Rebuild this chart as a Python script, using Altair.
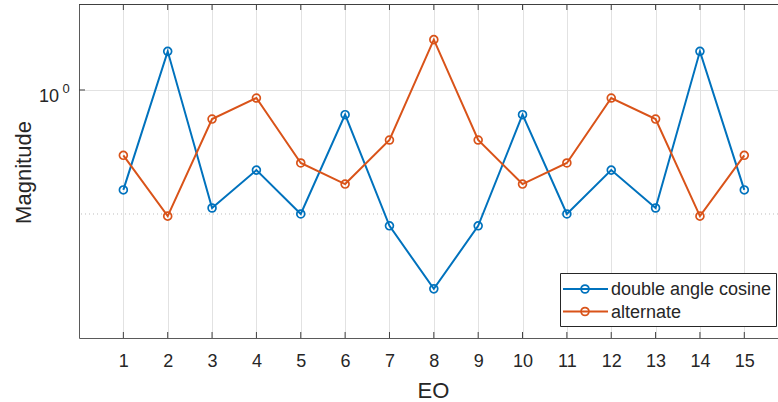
import altair as alt
import pandas as pd

# ---- data ----
eo = list(range(1, 16))
double_angle_cosine = [0.572, 1.241, 0.517, 0.639, 0.500, 0.871, 0.468, 0.329,
                       0.468, 0.871, 0.500, 0.639, 0.517, 1.241, 0.572]
alternate = [0.694, 0.494, 0.850, 0.956, 0.665, 0.591, 0.756, 1.325,
             0.756, 0.591, 0.665, 0.956, 0.850, 0.494, 0.694]
series_names = ["double angle cosine", "alternate"]
series_colors = ["#0072BD", "#D95319"]
major_y = [1]
minor_y = [0.5]
y_domain = [0.25, 1.617]
x_domain = [0, 15.76]

W, H = 699, 334
FONT = "Liberation Sans"
TXT = "#262626"
AXC = "#5a5a5a"
GRID = "#e2e2e2"
MSIZE = 62

df_blue = pd.DataFrame({"EO": eo, "Magnitude": double_angle_cosine})
df_orange = pd.DataFrame({"EO": eo, "Magnitude": alternate})
df_eo = pd.DataFrame({"EO": eo})
df_major = pd.DataFrame({"Magnitude": major_y})
df_minor = pd.DataFrame({"Magnitude": minor_y})

x_enc = alt.X(
    "EO:Q",
    scale=alt.Scale(domain=x_domain, nice=False, zero=False),
    axis=alt.Axis(
        values=eo, format="d", title="EO", titleFont=FONT, titleFontSize=22,
        titleFontWeight="normal", titleColor=TXT, titleX=354, titleY=59,
        titleBaseline="alphabetic", labelFont=FONT, labelFontSize=18,
        labelColor=TXT, labelBaseline="alphabetic", labelPadding=28,
        ticks=False, tickSize=0, grid=True, gridColor=GRID, gridWidth=1,
        domainColor=AXC, domainWidth=1, labelFlush=False,
    ),
)
y_enc = alt.Y(
    "Magnitude:Q",
    scale=alt.Scale(type="log", domain=y_domain, nice=False),
    axis=alt.Axis(
        values=major_y, labels=False, ticks=False, tickSize=0, grid=True,
        gridColor=GRID, gridWidth=1, domainColor=AXC, domainWidth=1,
        title="Magnitude", titleFont=FONT, titleFontSize=22,
        titleFontWeight="normal", titleColor=TXT, titleAngle=270,
        titleX=-48.6, titleY=168, titleBaseline="alphabetic",
    ),
)

layers = []

# dotted minor grid line
layers.append(
    alt.Chart(df_minor).mark_rule(color="#bdbdbd", strokeDash=[1, 3], strokeWidth=1)
    .encode(y=y_enc)
)

# data series
for df, col in [(df_blue, series_colors[0]), (df_orange, series_colors[1])]:
    layers.append(
        alt.Chart(df).mark_line(color=col, strokeWidth=2).encode(x=x_enc, y=y_enc)
    )
    layers.append(
        alt.Chart(df).mark_point(shape="circle", filled=False, color=col,
                                 size=MSIZE, strokeWidth=1.7, opacity=1)
        .encode(x=x_enc, y=y_enc)
    )

# inward ticks (bottom / top)
layers.append(
    alt.Chart(df_eo).mark_rule(color="#404040", strokeWidth=1)
    .encode(x=x_enc, y=alt.value(H), y2=alt.value(H - 6))
)
layers.append(
    alt.Chart(df_eo).mark_rule(color="#404040", strokeWidth=1)
    .encode(x=x_enc, y=alt.value(0), y2=alt.value(6))
)
# top border
layers.append(
    alt.Chart(df_major).mark_rule(color="#404040", strokeWidth=1)
    .encode(x=alt.value(0), x2=alt.value(W), y=alt.value(0.5))
)
# inward y tick
layers.append(
    alt.Chart(df_major).mark_rule(color="#404040", strokeWidth=1)
    .encode(y=y_enc, x=alt.value(0), x2=alt.value(6))
)
# y tick label 10^0
layers.append(
    alt.Chart(df_major).mark_text(align="right", baseline="alphabetic", font=FONT,
                                  fontSize=18, color=TXT, dy=12)
    .encode(y=y_enc, x=alt.value(-20), text=alt.value("10"))
)
layers.append(
    alt.Chart(df_major).mark_text(align="left", baseline="alphabetic", font=FONT,
                                  fontSize=13, color=TXT, dy=3)
    .encode(y=y_enc, x=alt.value(-16.5), text=alt.value("0"))
)

# legend
legend_df = pd.DataFrame({"name": series_names})
layers.append(
    alt.Chart(legend_df.head(1)).mark_rect(fill="white", stroke=TXT, strokeWidth=1)
    .encode(x=alt.value(481.5), x2=alt.value(697.5), y=alt.value(269.5), y2=alt.value(322.5))
)
for i, (name, col) in enumerate(zip(series_names, series_colors)):
    yy = 285 + 22.5 * i
    one = pd.DataFrame({"name": [name]})
    layers.append(
        alt.Chart(one).mark_rule(color=col, strokeWidth=2)
        .encode(x=alt.value(484), x2=alt.value(529), y=alt.value(yy))
    )
    layers.append(
        alt.Chart(one).mark_point(shape="circle", filled=False, color=col,
                                  size=MSIZE, strokeWidth=1.7, opacity=1)
        .encode(x=alt.value(506), y=alt.value(yy))
    )
    layers.append(
        alt.Chart(one).mark_text(align="left", baseline="middle", font=FONT,
                                 fontSize=18, color=TXT)
        .encode(x=alt.value(532), y=alt.value(yy + 1), text="name:N")
    )

chart = (
    alt.layer(*layers)
    .properties(
        width=W, height=H,
        autosize=alt.AutoSizeParams(type="none"),
        padding={"left": 79, "top": 4, "right": 0, "bottom": 64},
        background="white",
    )
    .configure_view(stroke=None)
)

chart.save("out.html", embed_options={"renderer": "svg", "actions": False})
